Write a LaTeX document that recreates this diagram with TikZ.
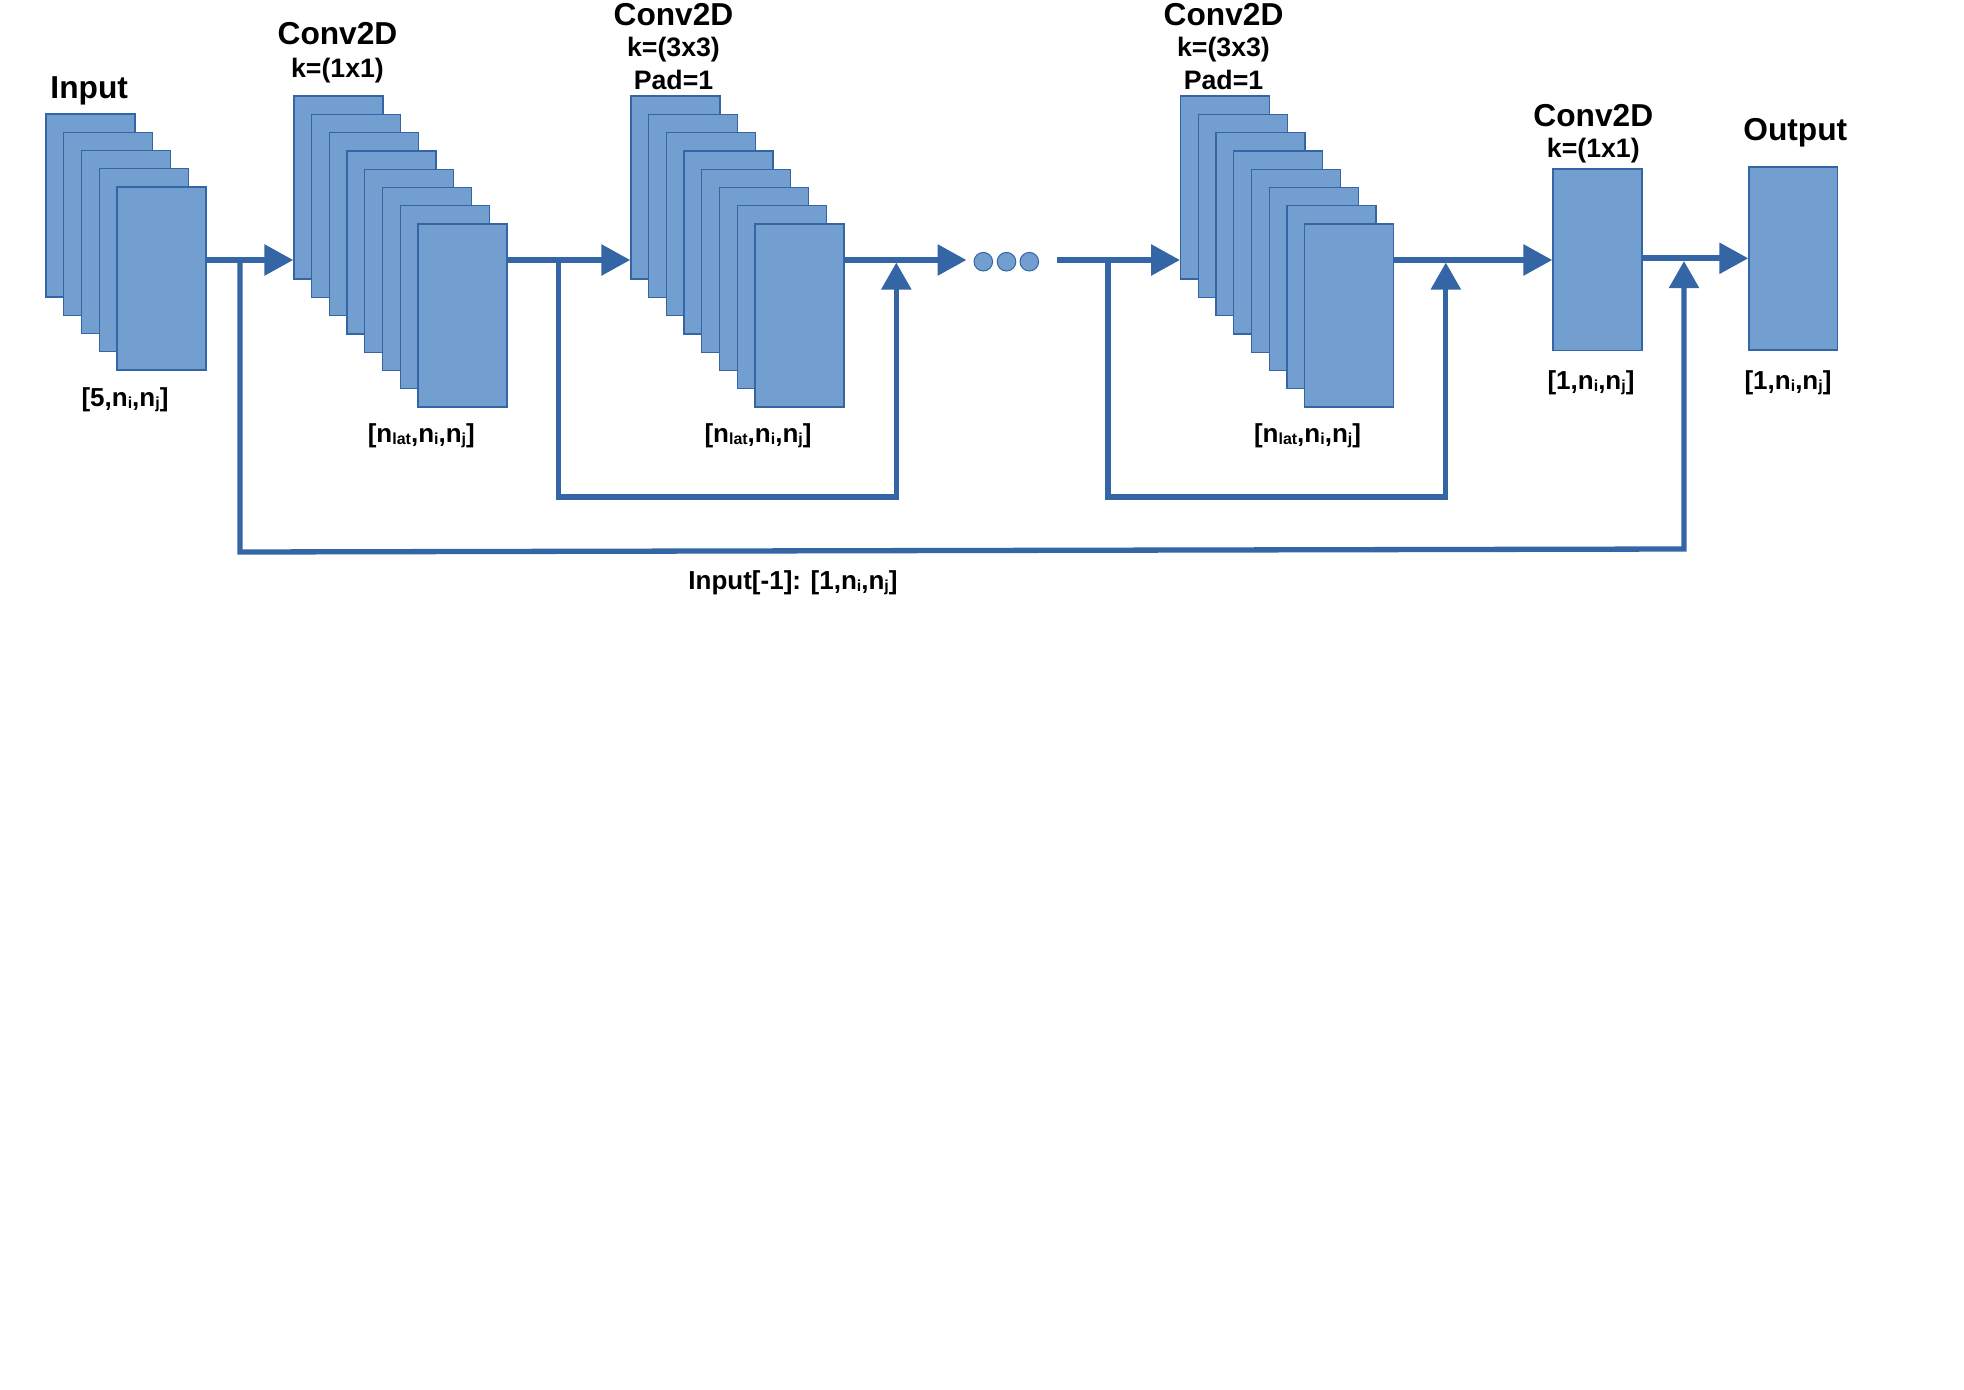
\documentclass[tikz,border=0pt]{standalone}
\usepackage{fontspec}
\setmainfont{Liberation Sans}
\usetikzlibrary{arrows.meta}
\definecolor{lineblue}{HTML}{3465A4}
\definecolor{fillblue}{HTML}{729FCF}
\newcommand{\mysub}[1]{\raisebox{-2pt}{\fontsize{16}{16}\selectfont #1}}
\begin{document}
\begin{tikzpicture}[x=1pt,y=-1pt,
  fmap/.style={draw=lineblue, fill=fillblue, line width=1.3pt, inner sep=0pt, anchor=north west, minimum width=89pt, minimum height=183pt},
  flow/.style={draw=lineblue, line width=6pt, -{Triangle[length=29pt,width=30pt]}},
  skipline/.style={draw=lineblue, line width=5.3pt, -{Triangle[length=27pt,width=29pt]}},
  head/.style={font=\fontsize{31.7}{36}\selectfont\bfseries, anchor=base, inner sep=0pt},
  sublab/.style={font=\fontsize{26.7}{30}\selectfont\bfseries, anchor=base, inner sep=0pt},
  dimlab/.style={font=\fontsize{26}{30}\selectfont\bfseries, anchor=base, inner sep=0pt},
  dotnode/.style={circle, draw=lineblue, fill=fillblue, line width=1pt, minimum size=18.6pt, inner sep=0pt}
]
\useasboundingbox (0,0) rectangle (1964,1389);

% feature-map stacks
\foreach \k in {0,...,4}
  \node[fmap] (in\k) at ({45.3+17.75*\k},{113.3+18.25*\k}) {};
\foreach \k in {0,...,7}
  \node[fmap] (ca\k) at ({293.3+17.7*\k},{95.3+18.3*\k}) {};
\foreach \k in {0,...,7}
  \node[fmap] (cb\k) at ({630.3+17.7*\k},{95.3+18.3*\k}) {};
\foreach \k in {0,...,7}
  \node[fmap] (cc\k) at ({1180+17.7*\k},{95.3+18.3*\k}) {};
\node[fmap, minimum height=181.7pt] (cd) at (1552.3,168.3) {};
\node[fmap, minimum width=88.4pt] (outp) at (1748.3,166.3) {};

% dots
\node[dotnode] (dota) at (983.3,261.7) {};
\node[dotnode] (dotb) at (1006.5,261.7) {};
\node[dotnode] (dotc) at (1029.3,261.7) {};

% headers
\node[head] (tin) at (89.2,98.3) {Input};
\node[head] (h1) at (337.5,45) {Conv2D};
\node[sublab] (k1) at (337.5,77.3) {k=(1x1)};
\node[head] (h2) at (673.5,26) {Conv2D};
\node[sublab] (k2) at (673.5,56.7) {k=(3x3)};
\node[sublab] (p2) at (673.5,89.3) {Pad=1};
\node[head] (h3) at (1223.5,26) {Conv2D};
\node[sublab] (k3) at (1223.5,56.7) {k=(3x3)};
\node[sublab] (p3) at (1223.5,89.3) {Pad=1};
\node[head] (h4) at (1593.3,126) {Conv2D};
\node[sublab] (k4) at (1593.3,157.3) {k=(1x1)};
\node[head] (tout) at (1795.3,140) {Output};

% dimension labels
\node[dimlab] (d0) at (125,406) {[5,n\mysub{i},n\mysub{j}]};
\node[dimlab] (d1) at (421.3,442.5) {[n\mysub{lat},n\mysub{i},n\mysub{j}]};
\node[dimlab] (d2) at (758,442.5) {[n\mysub{lat},n\mysub{i},n\mysub{j}]};
\node[dimlab] (d3) at (1307.5,442.5) {[n\mysub{lat},n\mysub{i},n\mysub{j}]};
\node[dimlab] (d4) at (1591,389) {[1,n\mysub{i},n\mysub{j}]};
\node[dimlab] (d5) at (1788,389) {[1,n\mysub{i},n\mysub{j}]};
\node[dimlab] (d6) at (793,589.3) {Input[-1]: [1,n\mysub{i},n\mysub{j}]};

% junction / corner coordinates
\coordinate (m1) at (240,260);
\coordinate (m2) at (558.5,260);
\coordinate (m3) at (1108,260);
\coordinate (m4) at (1684,258.3);
\coordinate (s1a) at (240,552);
\coordinate (s1b) at (1684,549);
\coordinate (s1t) at (1684,261);
\coordinate (s2a) at (558.5,497);
\coordinate (s2b) at (896.3,497);
\coordinate (s2t) at (896.3,262.5);
\coordinate (s3a) at (1108,497);
\coordinate (s3b) at (1445.8,497);
\coordinate (s3t) at (1445.8,262.5);

% main flow
\draw[flow] (in4.east |- m1) -- (ca0.west |- m1);
\draw[flow] (ca7.east |- m2) -- (cb0.west |- m2);
\draw[flow] (cb7.east |- m2) -- ([xshift=-7pt]dota.west |- m2);
\draw[flow] ([xshift=17.4pt]dotc.east |- m3) -- (cc0.west |- m3);
\draw[flow] (cc7.east |- m3) -- (cd.west |- m3);
\draw[flow] (cd.east |- m4) -- (outp.west |- m4);

% skip connections
\draw[skipline] (m1) -- (s1a) -- (s1b) -- (s1t);
\draw[skipline] (m2) -- (s2a) -- (s2b) -- (s2t);
\draw[skipline] (m3) -- (s3a) -- (s3b) -- (s3t);
\end{tikzpicture}
\end{document}
